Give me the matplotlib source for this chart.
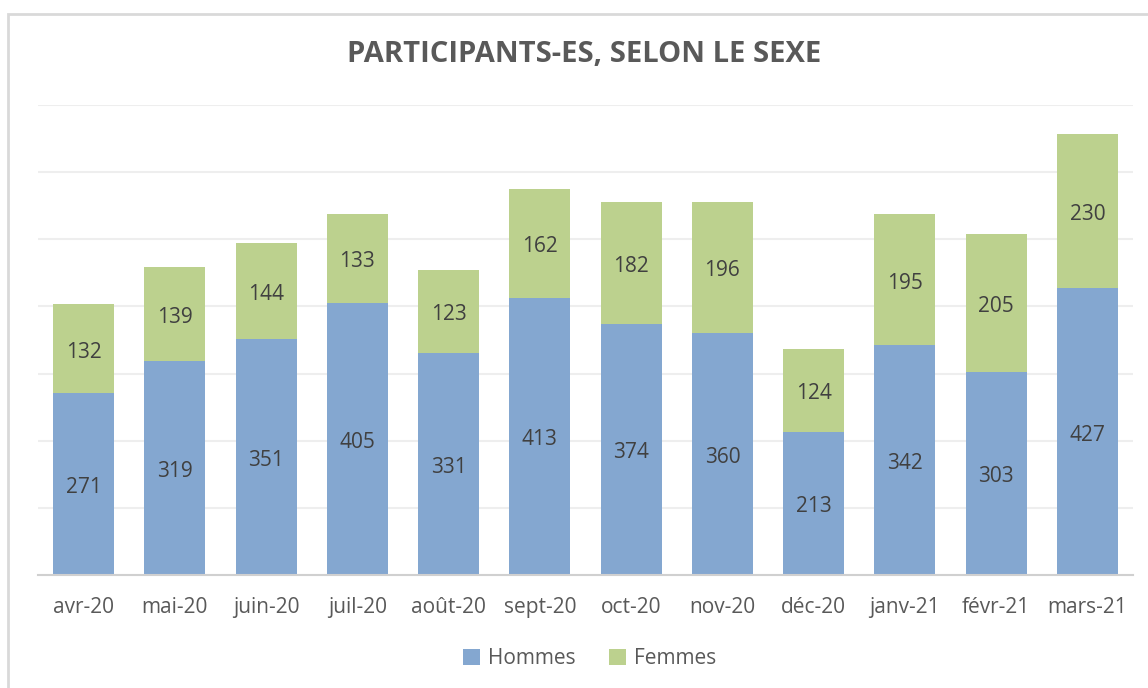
import matplotlib.pyplot as plt
import numpy as np
from matplotlib.patches import Rectangle

months = ["avr-20", "mai-20", "juin-20", "juil-20", "août-20", "sept-20",
          "oct-20", "nov-20", "déc-20", "janv-21", "févr-21", "mars-21"]
hommes = [271, 319, 351, 405, 331, 413, 374, 360, 213, 342, 303, 427]
femmes = [132, 139, 144, 133, 123, 162, 182, 196, 124, 195, 205, 230]

plt.rcParams['font.family'] = ['Open Sans', 'DejaVu Sans']

W, H = 1148, 688
fig = plt.figure(figsize=(W / 100, H / 100), dpi=100)
ax = fig.add_axes([38 / W, (H - 575) / H, (1133 - 38) / W, (575 - 105) / H])

x = np.arange(len(months))
blue = '#84a7d0'
green = '#bcd18e'
ax.bar(x, hommes, width=0.67, color=blue, label='Hommes', zorder=2)
ax.bar(x, femmes, width=0.67, bottom=hommes, color=green, label='Femmes', zorder=2)

for i in range(len(months)):
    ax.text(x[i], hommes[i] / 2 - 5, str(hommes[i]), ha='center', va='center',
            fontsize=15, color='#404040', zorder=3)
    ax.text(x[i], hommes[i] + femmes[i] / 2 - 5, str(femmes[i]), ha='center', va='center',
            fontsize=15, color='#404040', zorder=3)

ax.set_xlim(-0.5, len(months) - 0.5)
ax.set_ylim(0, 700)
ax.set_yticks(np.arange(100, 701, 100))
ax.yaxis.grid(True, color='#eeeeee', linewidth=1.5, zorder=3)
ax.set_yticklabels([])
ax.tick_params(axis='y', length=0)
ax.tick_params(axis='x', length=0, labelsize=15, labelcolor='#595959', pad=16)
ax.set_xticks(x)
ax.set_xticklabels(months)
for s in ['top', 'right', 'left']:
    ax.spines[s].set_visible(False)
ax.spines['bottom'].set_color('#d0d0d0')
ax.spines['bottom'].set_linewidth(1.5)

fig.text(584 / W, (H - 55) / H, "PARTICIPANTS-ES, SELON LE SEXE", ha='center', va='center',
         fontsize=21, fontweight='bold', color='#595959')

leg = fig.legend(loc='center', bbox_to_anchor=(590 / W, (H - 659) / H), ncol=2, frameon=False,
                 fontsize=15, handlelength=0.8, handleheight=0.8, columnspacing=1.6,
                 handletextpad=0.4)
for t in leg.get_texts():
    t.set_color('#595959')

fig.patches.append(Rectangle((8 / W, -0.1), 1.2, (H - 14) / H + 0.1, transform=fig.transFigure,
                             fill=False, edgecolor='#d9d9d9', linewidth=2))

fig.savefig('out.png', dpi=100)
